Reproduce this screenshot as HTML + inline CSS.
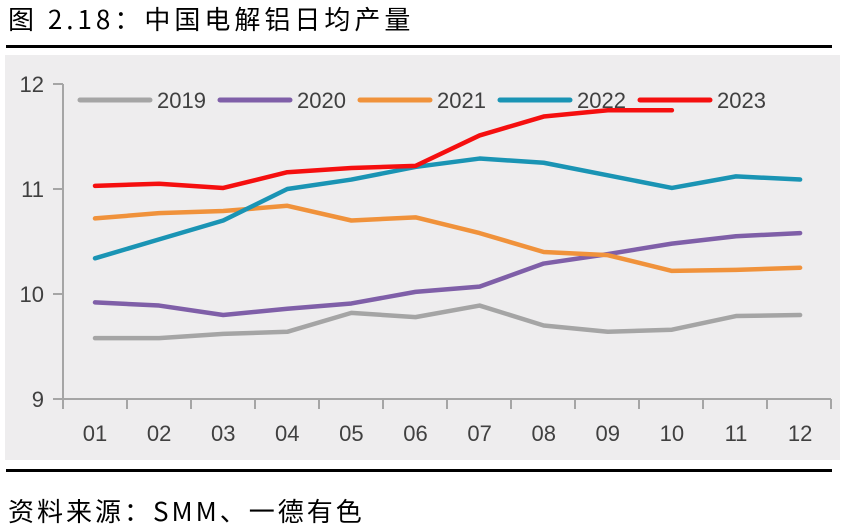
<!DOCTYPE html>
<html><head><meta charset="utf-8"><style>
body{margin:0;width:852px;height:532px;background:#fff;position:relative;overflow:hidden;font-family:"Liberation Sans","Noto Sans CJK SC",sans-serif}
.t{position:absolute;left:8px;font-size:26px;color:#000;font-family:"Noto Sans CJK SC",sans-serif;letter-spacing:4px;line-height:30px}
</style></head><body>
<div class="t" style="top:4px">图 2.18：中国电解铝日均产量</div>
<div style="position:absolute;left:6px;top:45px;width:826px;height:3px;background:#000"></div>
<div style="position:absolute;left:6px;top:469px;width:826px;height:3px;background:#000"></div>
<div class="t" style="top:496px;letter-spacing:3px">资料来源：SMM、一德有色</div>
<svg id="c" width="852" height="532" style="position:absolute;left:0;top:0"></svg>
<script>
const cats=["01","02","03","04","05","06","07","08","09","10","11","12"];
const yTicks=[9,10,11,12];
const s2019=[9.58,9.58,9.62,9.64,9.82,9.78,9.89,9.70,9.64,9.66,9.79,9.80];
const s2020=[9.92,9.89,9.80,9.86,9.91,10.02,10.07,10.29,10.38,10.48,10.55,10.58];
const s2021=[10.72,10.77,10.79,10.84,10.70,10.73,10.58,10.40,10.37,10.22,10.23,10.25];
const s2022=[10.34,10.52,10.70,11.00,11.09,11.21,11.29,11.25,11.13,11.01,11.12,11.09];
const s2023=[11.03,11.05,11.01,11.16,11.20,11.22,11.51,11.69,11.75,11.75];
const names=["2019","2020","2021","2022","2023"];
const series=[s2019,s2020,s2021,s2022,s2023];
const colors=["#a5a5a5","#7f5fa8","#f0923b","#1a94b4","#f50f0f"];
const svg=document.getElementById('c');const NS="http://www.w3.org/2000/svg";
function mk(t,a,p){const e=document.createElementNS(NS,t);for(const k in a)e.setAttribute(k,a[k]);(p||svg).appendChild(e);return e;}
const x=i=>95+i*64.1, y=v=>399-(v-9)*105;
let bg=mk('rect',{x:5,y:55,width:835,height:405,fill:'#eeedee'});

let ax=mk('line',{x1:63,y1:84,x2:63,y2:399,stroke:'#a5a5a5','stroke-width':2});

let bx=mk('line',{x1:63,y1:399,x2:831,y2:399,stroke:'#a5a5a5','stroke-width':2});

yTicks.forEach(v=>{mk('line',{x1:53,y1:y(v),x2:63,y2:y(v),stroke:'#a5a5a5','stroke-width':2});
 const t=mk('text',{x:44,y:y(v)+8,'text-anchor':'end','font-size':22,fill:'#404040'});t.textContent=v;
 });
for(let i=0;i<=cats.length;i++){mk('line',{x1:63+i*64,y1:399,x2:63+i*64,y2:409,stroke:'#a5a5a5','stroke-width':2});}
cats.forEach((c,i)=>{const t=mk('text',{x:x(i),y:441,'text-anchor':'middle','font-size':22,fill:'#404040'});t.textContent=c;
 });
series.forEach((s,k)=>{const p=mk('polyline',{points:s.map((v,i)=>x(i)+','+y(v)).join(' '),fill:'none',stroke:colors[k],'stroke-width':4.5,'stroke-linejoin':'round','stroke-linecap':'round'});
 });
names.forEach((n,k)=>{const lx=80+k*140;
 const l=mk('line',{x1:lx,y1:100,x2:lx+70,y2:100,stroke:colors[k],'stroke-width':5,'stroke-linecap':'round'});
 
 const t=mk('text',{x:lx+77,y:108,'font-size':22,fill:'#404040'});t.textContent=n;
 });
</script>
</body></html>
